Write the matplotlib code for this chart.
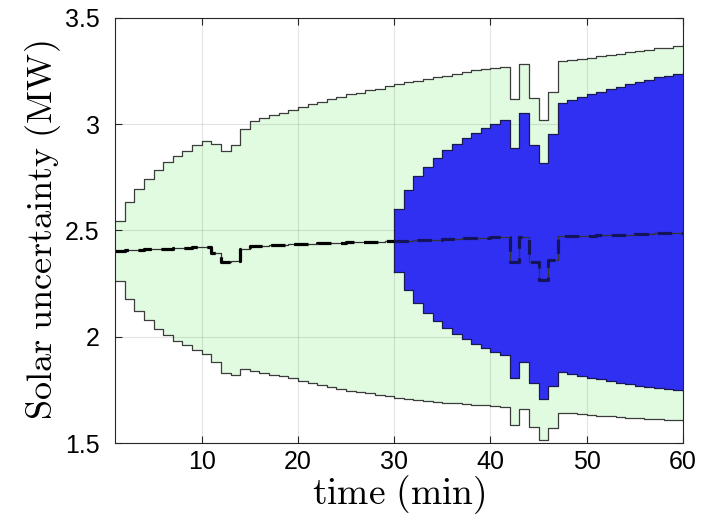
import numpy as np
import matplotlib
matplotlib.use('Agg')
import matplotlib.pyplot as plt

plt.rcParams['mathtext.fontset'] = 'cm'
plt.rcParams['font.family'] = ['Liberation Sans', 'DejaVu Sans']

# minutes 1..60
t = np.arange(1, 61)

# outer band (light green)
upper = [2.547, 2.633, 2.695, 2.744, 2.785, 2.822, 2.850, 2.876, 2.902, 2.923,
         2.907, 2.873, 2.901, 2.976, 3.016, 3.027, 3.042, 3.055, 3.069, 3.081,
         3.094, 3.105, 3.117, 3.129, 3.140, 3.149, 3.159, 3.168, 3.178, 3.187,
         3.197, 3.205, 3.212, 3.220, 3.229, 3.237, 3.245, 3.253, 3.259, 3.265,
         3.270, 3.117, 3.283, 3.125, 3.021, 3.151, 3.296, 3.302, 3.307, 3.313,
         3.319, 3.325, 3.332, 3.338, 3.344, 3.350, 3.357, 3.361, 3.368, 3.373]
lower = [2.262, 2.179, 2.121, 2.077, 2.037, 2.006, 1.982, 1.959, 1.937, 1.920,
         1.880, 1.830, 1.822, 1.846, 1.840, 1.830, 1.821, 1.814, 1.806, 1.794,
         1.783, 1.774, 1.764, 1.755, 1.747, 1.739, 1.733, 1.726, 1.720, 1.714,
         1.709, 1.704, 1.700, 1.695, 1.690, 1.687, 1.684, 1.681, 1.678, 1.672,
         1.668, 1.585, 1.659, 1.575, 1.516, 1.571, 1.642, 1.639, 1.636, 1.632,
         1.629, 1.626, 1.623, 1.620, 1.618, 1.615, 1.612, 1.610, 1.607, 1.605]

# forecast mean
center = [2.405, 2.407, 2.409, 2.411, 2.413, 2.415, 2.417, 2.419, 2.421, 2.423,
          2.396, 2.354, 2.356, 2.411, 2.428, 2.429, 2.431, 2.433, 2.435, 2.437,
          2.438, 2.439, 2.441, 2.442, 2.444, 2.445, 2.446, 2.448, 2.449, 2.451,
          2.452, 2.454, 2.456, 2.457, 2.459, 2.461, 2.463, 2.465, 2.466, 2.468,
          2.470, 2.351, 2.471, 2.350, 2.268, 2.361, 2.472, 2.473, 2.474, 2.475,
          2.477, 2.478, 2.480, 2.481, 2.483, 2.484, 2.486, 2.487, 2.489, 2.490]

# inner band (blue), from minute 30 on
t_in = np.arange(30, 61)
upper_in = [2.600, 2.690, 2.755, 2.800, 2.841, 2.877, 2.907, 2.936, 2.959, 2.981,
            3.000, 3.019, 2.889, 3.052, 2.901, 2.817, 2.954, 3.099, 3.113, 3.126,
            3.140, 3.151, 3.164, 3.177, 3.187, 3.198, 3.209, 3.220, 3.229, 3.238,
            3.245]
lower_in = [2.307, 2.218, 2.158, 2.112, 2.072, 2.041, 2.012, 1.989, 1.968, 1.949,
            1.930, 1.916, 1.808, 1.883, 1.781, 1.708, 1.766, 1.833, 1.826, 1.816,
            1.807, 1.799, 1.791, 1.783, 1.776, 1.770, 1.764, 1.758, 1.753, 1.748,
            1.744]

fig = plt.figure(figsize=(7.07, 5.21), dpi=100)
ax = fig.add_axes([0.1627, 0.1497, 0.8033, 0.8158])

edge = '#3c3c3c'
ax.fill_between(t, lower, upper, step='post', facecolor='#e0fbe0', lw=0, zorder=1)
ax.step(t, upper, where='post', color=edge, lw=0.9, zorder=2)
ax.step(t, lower, where='post', color=edge, lw=0.9, zorder=2)

ax.fill_between(t_in, lower_in, upper_in, step='post', facecolor='#3030f2', lw=0, zorder=3)
ax.step(t_in, upper_in, where='post', color='#1a1a50', lw=0.9, zorder=4)
ax.step(t_in, lower_in, where='post', color='#1a1a50', lw=0.9, zorder=4)
ax.plot([30, 30], [lower_in[0], upper_in[0]], color='#1a1a50', lw=0.9, zorder=4)

# mean: thin solid line plus thick dashes
c = np.array(center)
ax.step(t, c, where='post', color='#333333', lw=0.9, zorder=5)
ax.step(t[:30], c[:30], where='post', color='black', lw=2.3,
        dashes=(4.5, 3), zorder=6)
ax.step(t[29:], c[29:], where='post', color='#13135e', lw=2.3,
        dashes=(4.5, 3), zorder=6)

ax.set_xlim(1, 60)
ax.set_ylim(1.5, 3.5)
ax.set_xticks([10, 20, 30, 40, 50, 60])
ax.set_yticks([1.5, 2, 2.5, 3, 3.5])
ax.set_yticklabels(['1.5', '2', '2.5', '3', '3.5'])
ax.grid(True, color='#262626', alpha=0.12, lw=0.8)
ax.set_axisbelow(False)
ax.tick_params(direction='in', length=5, width=0.8, top=True, right=True,
               labelsize=18, colors='#262626', labelcolor='black', pad=5)
ax.tick_params(axis='y', pad=11)
for s in ax.spines.values():
    s.set_color('#262626')
    s.set_linewidth(0.8)
    s.set_zorder(10)

ax.set_xlabel(r'$\mathrm{time\ (min)}$', fontsize=27)
ax.set_ylabel(r'$\mathrm{Solar\ uncertainty\ (MW)}$', fontsize=26)
ax.xaxis.set_label_coords(0.5, -0.072)
ax.yaxis.set_label_coords(-0.092, 0.5)

fig.savefig('out.png', dpi=100)
